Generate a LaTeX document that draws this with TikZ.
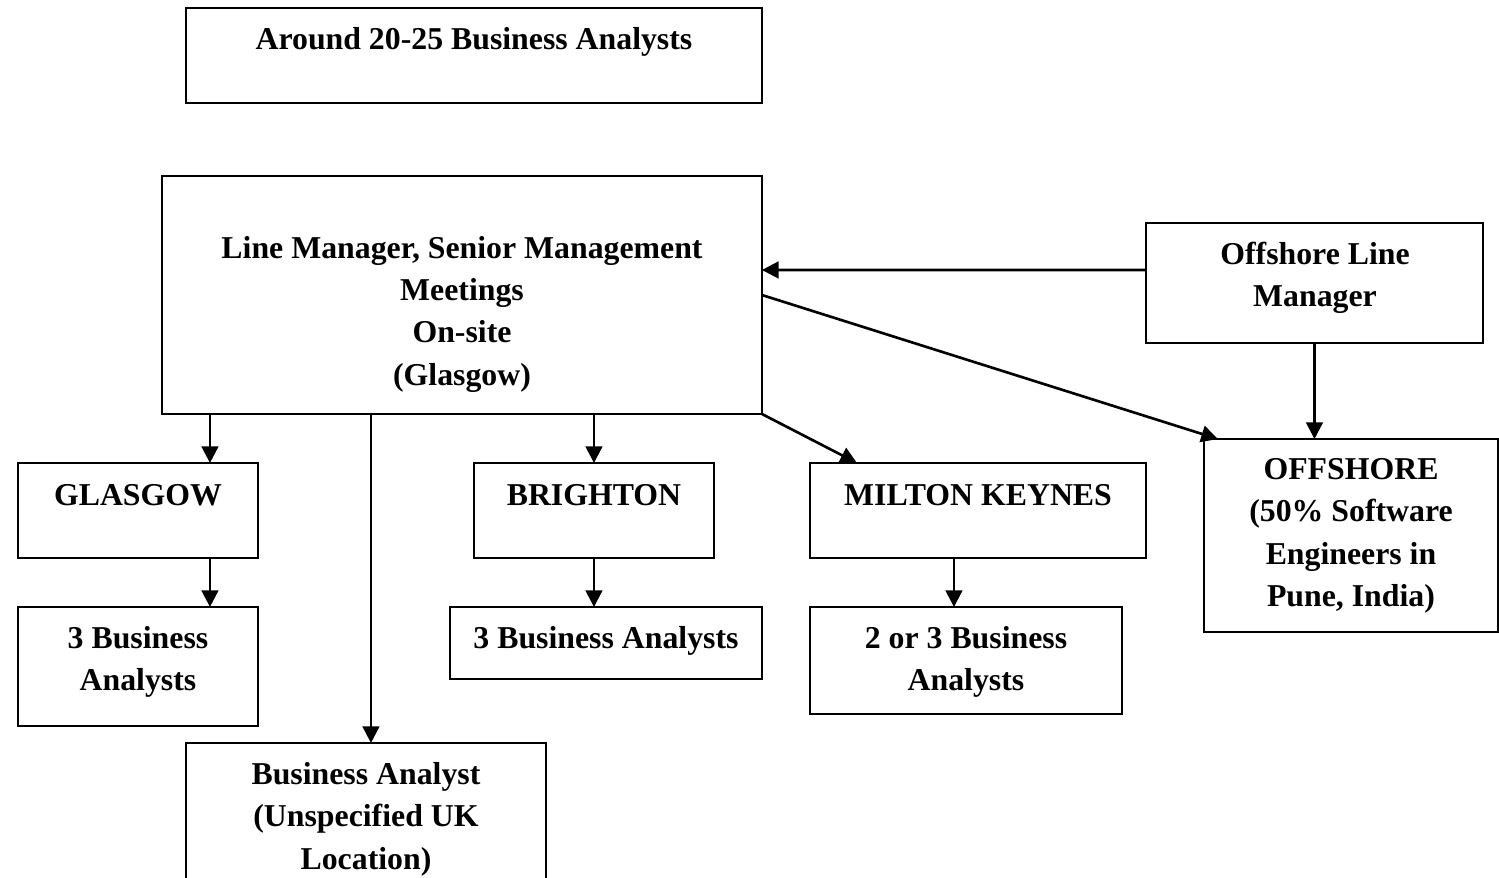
\documentclass[tikz,border=0pt]{standalone}
\usepackage{fontspec}
\setmainfont{Liberation Serif}
\usetikzlibrary{arrows.meta,calc}
\begin{document}
\begin{tikzpicture}[x=0.02cm,y=-0.02cm,
  box/.style={draw=black,line width=0.85pt,rectangle,anchor=north west,inner sep=0pt,outer sep=0pt},
  lbl/.style={font=\fontsize{18.1}{24.1}\selectfont\bfseries,align=center,inner sep=0pt},
  arr/.style={line width=1.5pt,-{Triangle[length=9.5pt,width=9.5pt]}}]
\useasboundingbox (0,0) rectangle (1499,877);
\fill[white] (0,0) rectangle (1499,877);

% boxes
\node[box,minimum width=11.52cm,minimum height=1.9cm] (top) at (186,8) {};
\node[box,minimum width=12cm,minimum height=4.76cm] (lm) at (162,176) {};
\node[box,minimum width=6.74cm,minimum height=2.4cm] (olm) at (1146,223) {};
\node[box,minimum width=4.8cm,minimum height=1.9cm] (gla) at (18,463) {};
\node[box,minimum width=4.8cm,minimum height=1.9cm] (bri) at (474,463) {};
\node[box,minimum width=6.72cm,minimum height=1.9cm] (mk) at (810,463) {};
\node[box,minimum width=5.88cm,minimum height=3.86cm] (off) at (1204,439) {};
\node[box,minimum width=4.8cm,minimum height=2.38cm] (g3) at (18,607) {};
\node[box,minimum width=6.24cm,minimum height=1.44cm] (b3) at (450,607) {};
\node[box,minimum width=6.24cm,minimum height=2.14cm] (m3) at (810,607) {};
\node[box,minimum width=7.2cm,minimum height=3cm] (uk) at (186,743) {};

% labels
\node[lbl] (ttop) at (474,42) {Around 20-25 Business Analysts};
\node[lbl] (tlm) at (462,314) {Line Manager, Senior Management\\Meetings\\On-site\\(Glasgow)};
\node[lbl] (tolm) at (1315,278) {Offshore Line\\Manager};
\node[lbl] (tgla) at (138,495) {GLASGOW};
\node[lbl] (tbri) at (594,495) {BRIGHTON};
\node[lbl] (tmk) at (978,495) {MILTON KEYNES};
\node[lbl] (toff) at (1351,536) {OFFSHORE\\(50\% Software\\Engineers in\\Pune, India)};
\node[lbl] (tg3) at (138,662) {3 Business\\Analysts};
\node[lbl] (tb3) at (606,641) {3 Business Analysts};
\node[lbl] (tm3) at (966,662) {2 or 3 Business\\Analysts};
\node[lbl] (tuk) at (366,819) {Business Analyst\\(Unspecified UK\\Location)};

% connectors
\coordinate (ga) at ([xshift=-0.96cm]gla.north east);
\coordinate (ua) at ([xshift=0.1cm]uk.north);
\coordinate (ma) at ([xshift=-0.48cm]mk.south);
\draw[arr] ([yshift=0.26cm]olm.west) -- ([yshift=0.5cm]lm.east);
\draw[arr] (lm.east) -- ([xshift=0.28cm]off.north west);
\draw[arr] (olm.south) -- (olm.south |- off.north);
\draw[arr] (lm.south -| ga) -- (ga);
\draw[arr] (lm.south -| ua) -- (ua);
\draw[arr] (lm.south -| bri.north) -- (bri.north);
\draw[arr] (lm.south east) -- ([xshift=0.94cm]mk.north west);
\draw[arr] (gla.south -| ga) -- (g3.north -| ga);
\draw[arr] (bri.south) -- (bri.south |- b3.north);
\draw[arr] (ma) -- (ma |- m3.north);
\end{tikzpicture}
\end{document}
